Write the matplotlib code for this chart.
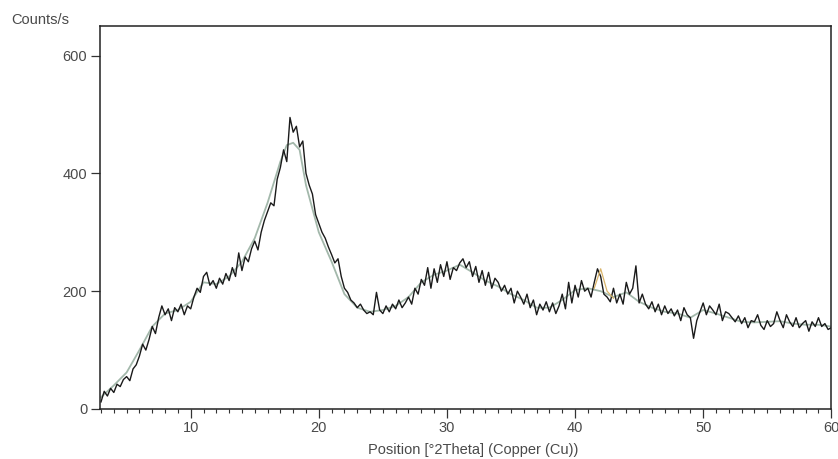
import matplotlib
matplotlib.use("Agg")
import matplotlib.pyplot as plt
import numpy as np
from matplotlib.ticker import MultipleLocator

# measured scan, step 0.25 deg from 3 to 60 (one row per degree)
start_angle = 3.0
step_angle = 0.25
counts = [
    12, 30, 22, 35,
    28, 42, 38, 50,
    55, 48, 68, 75,
    90, 110, 100, 118,
    140, 128, 155, 175,
    160, 170, 150, 172,
    165, 178, 160, 175,
    170, 190, 205, 198,
    225, 232, 210, 218,
    205, 222, 212, 230,
    218, 240, 225, 265,
    235, 258, 250, 272,
    285, 270, 300, 320,
    335, 350, 345, 390,
    410, 440, 420, 495,
    470, 480, 445, 455,
    400, 380, 365, 330,
    315, 300, 290, 275,
    262, 248, 255, 225,
    205, 198, 185, 180,
    172, 178, 168, 162,
    165, 160, 198, 168,
    162, 175, 165, 178,
    170, 185, 172, 180,
    190, 178, 205, 195,
    220, 210, 240, 205,
    238, 215, 245, 225,
    250, 220, 240, 235,
    248, 255, 240, 250,
    225, 242, 215, 235,
    210, 232, 205, 222,
    215, 200, 210, 195,
    205, 180, 200, 190,
    178, 195, 172, 185,
    160, 178, 168, 182,
    165, 180, 162, 175,
    195, 170, 215, 180,
    210, 190, 218, 200,
    205, 190, 215, 238,
    225, 195, 190, 182,
    205, 180, 195, 178,
    215, 195, 205, 243,
    180, 195, 178, 170,
    182, 165, 178, 160,
    175, 162, 170, 158,
    168, 150, 172, 160,
    155, 120, 150, 165,
    180, 160, 175, 168,
    160, 178, 150, 165,
    162, 155, 148, 158,
    145, 155, 138, 150,
    148, 160, 142, 135,
    150, 140, 145, 165,
    150, 138, 160, 148,
    140, 155, 138, 145,
    150, 132, 148, 140,
    155, 140, 145, 135,
    138,
]

# calculated profile under the scan
fit_angle = [3, 4, 5, 6, 7, 8, 9, 10, 11, 12, 13, 14, 15, 16, 17, 17.5, 18, 18.5,
             19, 20, 21, 22, 23, 24, 25, 26, 27, 28, 29, 30, 31, 32, 33, 34, 35,
             36, 37, 38, 39, 40, 41, 42, 43, 44, 45, 46, 47, 48, 49, 50, 51, 52,
             53, 54, 55, 56, 57, 58, 59, 60]
fit_counts = [20, 40, 62, 100, 140, 162, 168, 182, 215, 212, 225, 250, 290, 350,
              420, 448, 452, 440, 380, 300, 250, 195, 172, 165, 168, 175, 190,
              215, 228, 235, 245, 232, 218, 208, 195, 185, 172, 172, 185, 202,
              205, 200, 190, 198, 182, 172, 165, 162, 155, 168, 162, 155, 148,
              147, 148, 149, 145, 143, 143, 140]

# highlighted peak fragment near 42 deg
peak_angle = [41.5, 42.0, 42.5, 43.0]
peak_counts = [205, 238, 200, 188]

angle = start_angle + step_angle * np.arange(len(counts))

plt.rcParams['font.family'] = ['Liberation Sans', 'DejaVu Sans']
text_color = '#4a4a4a'

fig = plt.figure(figsize=(8.38, 4.59), dpi=100)
ax = fig.add_axes([0.119, 0.109, 0.873, 0.834])

ax.plot(fit_angle, fit_counts, color='#a3b8ab', linewidth=1.3, zorder=1)
ax.plot(angle, counts, color='#1a1a1a', linewidth=1.0, zorder=2)
ax.plot(peak_angle, peak_counts, color='#d9b46a', linewidth=0.9, zorder=3)

ax.set_xlim(2.9, 60)
ax.set_ylim(0, 650)
ax.xaxis.set_major_locator(MultipleLocator(10))
ax.xaxis.set_minor_locator(MultipleLocator(1))
ax.yaxis.set_major_locator(MultipleLocator(200))
ax.tick_params(axis='both', which='major', direction='out', length=6.5, width=0.9,
               labelsize=10.5, labelcolor=text_color, color='#333333', pad=2.5)
ax.tick_params(axis='x', which='minor', direction='out', length=3, width=0.8,
               color='#333333')
for spine in ax.spines.values():
    spine.set_linewidth(1.1)
    spine.set_color('#222222')

ax.set_xlabel('Position [°2Theta] (Copper (Cu))', fontsize=10.5, color=text_color)
ax.xaxis.set_label_coords(0.511, -0.09)
fig.text(0.014, 0.948, 'Counts/s', fontsize=10.5, color=text_color)

fig.savefig('out.png', dpi=100)
